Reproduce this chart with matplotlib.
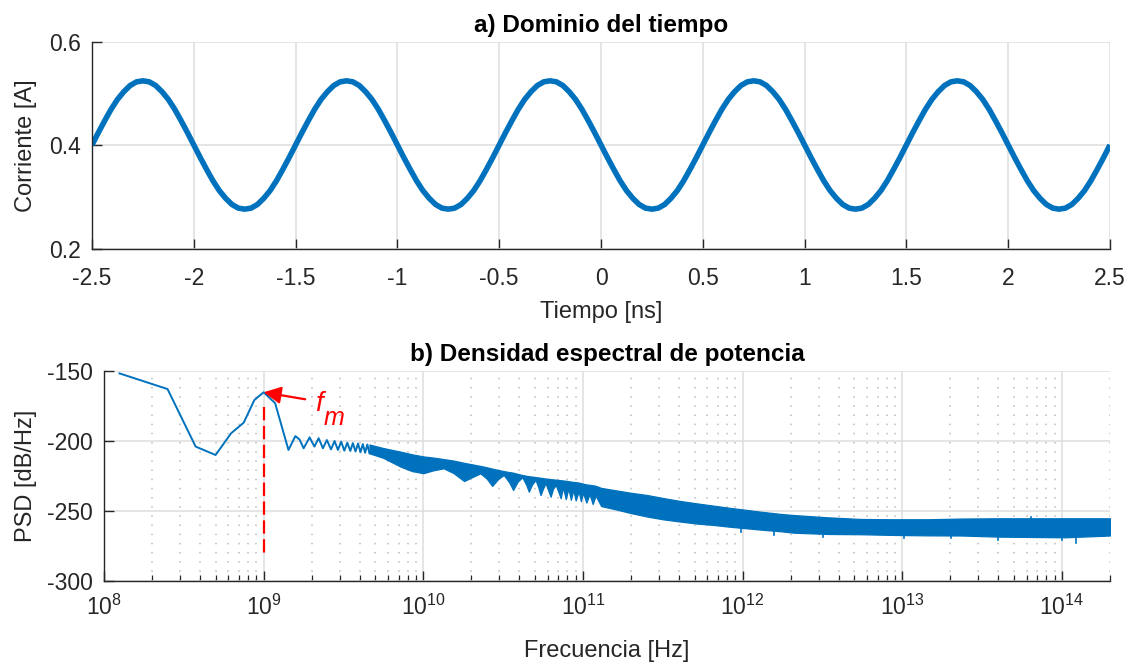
import numpy as np
import matplotlib
matplotlib.use("Agg")
import matplotlib.pyplot as plt
from matplotlib.ticker import FixedLocator, NullFormatter

plt.rcParams['font.family'] = ['Liberation Sans', 'DejaVu Sans']
plt.rcParams['mathtext.fontset'] = 'custom'
plt.rcParams['mathtext.rm'] = 'Liberation Sans'
plt.rcParams['mathtext.it'] = 'Liberation Sans:italic'
plt.rcParams['mathtext.default'] = 'regular'
plt.rcParams['axes.unicode_minus'] = False

# ---------------- data ----------------
# a) time domain (sampled every 1/32 ns)
time_ns = np.linspace(-2.5, 2.5, 161)
current_A = [
    0.401, 0.425, 0.448, 0.470, 0.489, 0.504, 0.516, 0.523, 0.525, 0.523, 0.516, 0.504, 0.489, 0.470, 0.448, 0.425,
    0.401, 0.377, 0.354, 0.332, 0.313, 0.298, 0.286, 0.279, 0.277, 0.279, 0.286, 0.298, 0.313, 0.332, 0.354, 0.377,
    0.401, 0.425, 0.448, 0.470, 0.489, 0.504, 0.516, 0.523, 0.525, 0.523, 0.516, 0.504, 0.489, 0.470, 0.448, 0.425,
    0.401, 0.377, 0.354, 0.332, 0.313, 0.298, 0.286, 0.279, 0.277, 0.279, 0.286, 0.298, 0.313, 0.332, 0.354, 0.377,
    0.401, 0.425, 0.448, 0.470, 0.489, 0.504, 0.516, 0.523, 0.525, 0.523, 0.516, 0.504, 0.489, 0.470, 0.448, 0.425,
    0.401, 0.377, 0.354, 0.332, 0.313, 0.298, 0.286, 0.279, 0.277, 0.279, 0.286, 0.298, 0.313, 0.332, 0.354, 0.377,
    0.401, 0.425, 0.448, 0.470, 0.489, 0.504, 0.516, 0.523, 0.525, 0.523, 0.516, 0.504, 0.489, 0.470, 0.448, 0.425,
    0.401, 0.377, 0.354, 0.332, 0.313, 0.298, 0.286, 0.279, 0.277, 0.279, 0.286, 0.298, 0.313, 0.332, 0.354, 0.377,
    0.401, 0.425, 0.448, 0.470, 0.489, 0.504, 0.516, 0.523, 0.525, 0.523, 0.516, 0.504, 0.489, 0.470, 0.448, 0.425,
    0.401, 0.377, 0.354, 0.332, 0.313, 0.298, 0.286, 0.279, 0.277, 0.279, 0.286, 0.298, 0.313, 0.332, 0.354, 0.377,
    0.401]
time_ticks = [-2.5, -2, -1.5, -1, -0.5, 0, 0.5, 1, 1.5, 2, 2.5]
time_tick_labels = ['-2.5', '-2', '-1.5', '-1', '-0.5', '0', '0.5', '1', '1.5', '2', '2.5']
current_ticks = [0.2, 0.4, 0.6]
current_tick_labels = ['0.2', '0.4', '0.6']

# b) PSD: resolved low-frequency bins (GHz, dB/Hz)
psd_bins_GHz = [0.125, 0.25, 0.375, 0.5, 0.625, 0.75, 0.875, 1.0, 1.18, 1.43, 1.58, 1.68, 1.78,
                1.94, 2.08, 2.21, 2.35, 2.49, 2.64, 2.78, 2.92, 3.06, 3.20, 3.34, 3.49, 3.62,
                3.76, 3.90, 4.04, 4.18, 4.32, 4.46, 4.60]
psd_bins_dB = [-151.7, -162.9, -204.0, -210.0, -194.5, -186.9, -170.7, -165.2, -173.0, -206.4, -196.5,
               -199.0, -205.2, -197.4, -204.0, -198.0, -205.2, -199.3, -206.0, -200.0, -206.4, -200.5,
               -206.9, -201.2, -207.1, -201.5, -207.5, -201.8, -208.0, -202.2, -208.4, -202.5, -208.8]

# b) PSD: dense region, upper / lower envelope of the oscillating trace
band_f_Hz = [4.6e9, 5.6e9, 7.2e9, 8.5e9, 1.0e10, 1.15e10, 1.34e10, 1.55e10, 1.8e10, 2.05e10, 2.28e10,
             2.5e10, 2.7e10, 2.95e10, 3.19e10, 3.45e10, 3.65e10, 3.9e10, 4.17e10, 4.4e10, 4.58e10,
             4.8e10, 5.05e10, 5.25e10, 5.42e10, 5.62e10, 5.83e10, 6.05e10, 6.27e10, 6.5e10, 6.75e10,
             7.0e10, 7.25e10, 7.5e10, 7.8e10, 8.1e10, 8.4e10, 8.7e10, 9.0e10, 9.4e10, 9.7e10, 1.0e11,
             1.05e11, 1.1e11, 1.15e11, 1.2e11, 1.3e11, 1.56e11, 2.0e11, 2.53e11, 3.2e11, 4.1e11,
             5.2e11, 6.6e11, 8.4e11, 1.07e12, 1.3e12, 1.74e12, 2.1e12, 3.4e12, 5.5e12, 8.9e12,
             1.44e13, 2.34e13, 4.0e13, 1.04e14, 2.0e14]
band_upper_dB = [-202.5, -205.0, -207.6, -209.5, -211.0, -211.8, -212.9, -214.0, -215.6, -216.8, -217.8,
                 -218.8, -219.7, -220.7, -221.5, -222.2, -222.6, -223.5, -224.3, -224.8, -225.2,
                 -225.4, -225.8, -226.0, -226.3, -226.5, -226.8, -227.0, -227.2, -227.4, -227.6,
                 -227.8, -228.0, -228.2, -228.4, -228.7, -229.0, -229.2, -229.4, -229.7, -230.0, -230.5,
                 -231.0, -231.3, -231.6, -232.0, -233.5, -235.0, -237.0, -238.6, -240.8, -242.9,
                 -244.6, -246.2, -247.8, -249.3, -250.5, -252.1, -252.9, -254.5, -255.7, -255.9,
                 -255.9, -255.4, -255.2, -255.2, -255.2]
band_lower_dB = [-208.8, -212.0, -218.3, -221.5, -223.0, -221.0, -219.5, -223.0, -228.6, -225.5, -223.1,
                 -227.0, -232.1, -227.0, -224.3, -229.5, -235.0, -229.0, -225.9, -231.0, -236.2,
                 -231.0, -227.9, -233.0, -238.6, -234.0, -230.2, -235.0, -239.8, -234.0, -231.5,
                 -236.0, -240.9, -233.0, -241.5, -234.0, -242.0, -235.0, -242.5, -236.0, -243.0, -237.0,
                 -244.0, -238.0, -245.0, -239.0, -246.5, -248.5, -251.5, -254.0, -256.0, -257.6,
                 -259.0, -260.0, -261.3, -262.4, -263.3, -264.5, -265.5, -266.4, -266.6, -267.1,
                 -267.4, -267.5, -268.3, -268.8, -267.5]
# isolated spikes of the trace outside the envelope
spike_f_Hz = [9.75e11, 1.58e12, 3.2e12, 1.02e13, 2.03e13, 4.0e13, 1.0e14, 1.23e14, 6.4e13]
spike_dB = [-264.8, -267.1, -268.3, -269.5, -269.5, -270.7, -270.7, -273.0, -254.0]
spike_dir = [1, 1, 1, 1, 1, 1, 1, 1, -1]

fm_Hz = 1e9
fm_peak_dB = -165.2
fm_line_dB = [-175.5, -281.0]
arrow_tail = (1.82e9, -170.2)

freq_ticks = [1e8, 1e9, 1e10, 1e11, 1e12, 1e13, 1e14]
freq_tick_labels = [r'$10^{8}$', r'$10^{9}$', r'$10^{10}$', r'$10^{11}$', r'$10^{12}$',
                    r'$10^{13}$', r'$10^{14}$']
freq_minor_ticks = [m * d for d in [1e8, 1e9, 1e10, 1e11, 1e12, 1e13] for m in range(2, 10)] + [2e14]
psd_ticks = [-300, -250, -200, -150]
psd_tick_labels = ['-300', '-250', '-200', '-150']

# ---------------- styling ----------------
BLUE = '#0072BD'
DARK = '#262626'
GRID = '#dedede'
TICK_FS = 16.5
LABEL_FS = 17
TITLE_FS = 17.5
W, H = 1136, 666
fig = plt.figure(figsize=(W / 100, H / 100), dpi=100)

def style(ax):
    for s in ['top', 'right']:
        ax.spines[s].set_visible(False)
    for s in ['left', 'bottom']:
        ax.spines[s].set_color(DARK)
        ax.spines[s].set_linewidth(1.0)
    ax.tick_params(which='major', direction='in', length=7, width=1.0, color=DARK,
                   labelcolor=DARK, labelsize=TICK_FS)
    ax.tick_params(which='minor', direction='in', length=4, width=0.9, color=DARK)
    ax.tick_params(axis='y', pad=8)
    ax.set_axisbelow(True)

# ---- a) time domain ----
ax1 = fig.add_axes([92 / W, 1 - 249 / H, (1110 - 92) / W, (249 - 42) / H])
style(ax1)
ax1.grid(True, which='major', color=GRID, lw=1.1)
ax1.plot(time_ns, current_A, color=BLUE, lw=4.0, solid_capstyle='butt')
ax1.set_xlim(-2.5, 2.5)
ax1.set_ylim(0.2, 0.6)
ax1.set_xticks(time_ticks)
ax1.set_xticklabels(time_tick_labels)
ax1.set_yticks(current_ticks)
ax1.set_yticklabels(current_tick_labels)
ax1.tick_params(axis='x', pad=13)
ax1.set_title('a) Dominio del tiempo', fontsize=TITLE_FS, fontweight='bold', pad=7, color='black')
ax1.set_xlabel('Tiempo [ns]', fontsize=LABEL_FS, color=DARK)
ax1.set_ylabel('Corriente [A]', fontsize=LABEL_FS, color=DARK)
ax1.xaxis.set_label_coords(0.5, (249 - 301) / 207)
ax1.yaxis.set_label_coords((37 - 92) / 1018, 0.5)

# ---- b) PSD ----
ax2 = fig.add_axes([104 / W, 1 - 581 / H, (1110 - 104) / W, (581 - 371) / H])
style(ax2)
ax2.set_xscale('log')
ax2.set_xlim(1e8, 2e14)
ax2.set_ylim(-300, -150)
ax2.set_xticks(freq_ticks)
ax2.set_xticklabels(freq_tick_labels)
ax2.xaxis.set_minor_locator(FixedLocator(freq_minor_ticks))
ax2.xaxis.set_minor_formatter(NullFormatter())
ax2.grid(True, which='major', color=GRID, lw=1.1)
ax2.grid(True, which='minor', axis='x', color='#bcbcbc', lw=1.1, linestyle=(0, (1, 5)))
ax2.set_yticks(psd_ticks)
ax2.set_yticklabels(psd_tick_labels)
ax2.tick_params(axis='x', pad=10)

bins_Hz = np.array(psd_bins_GHz) * 1e9
ax2.plot(bins_Hz, psd_bins_dB, color=BLUE, lw=1.4)
ax2.fill_between(band_f_Hz, band_lower_dB, band_upper_dB, color=BLUE, lw=0.9, edgecolor=BLUE)
for f, d, s in zip(spike_f_Hz, spike_dB, spike_dir):
    ax2.plot([f, f], [d, d + 5 * s], color=BLUE, lw=1.2)

ax2.plot([fm_Hz, fm_Hz], fm_line_dB, color='red', lw=1.6, linestyle=(0, (6, 2.5)))
ax2.annotate('', xy=(fm_Hz, fm_peak_dB), xytext=arrow_tail,
             arrowprops=dict(arrowstyle='-|>', color='red', lw=1.6, mutation_scale=26,
                             shrinkA=0, shrinkB=0))
ax2.text(2.1e9, -178.6, 'f', color='red', fontsize=20, fontstyle='italic', ha='left', va='baseline')
ax2.text(2.36e9, -188.6, 'm', color='red', fontsize=18, fontstyle='italic', ha='left', va='baseline')

ax2.set_title('b) Densidad espectral de potencia', fontsize=TITLE_FS, fontweight='bold', pad=7, color='black')
ax2.set_xlabel('Frecuencia [Hz]', fontsize=LABEL_FS, color=DARK)
ax2.set_ylabel('PSD [dB/Hz]', fontsize=LABEL_FS, color=DARK)
ax2.xaxis.set_label_coords(0.5, (581 - 640) / 210)
ax2.yaxis.set_label_coords((37 - 104) / 1006, 0.5)

fig.savefig('out.png', dpi=100)
